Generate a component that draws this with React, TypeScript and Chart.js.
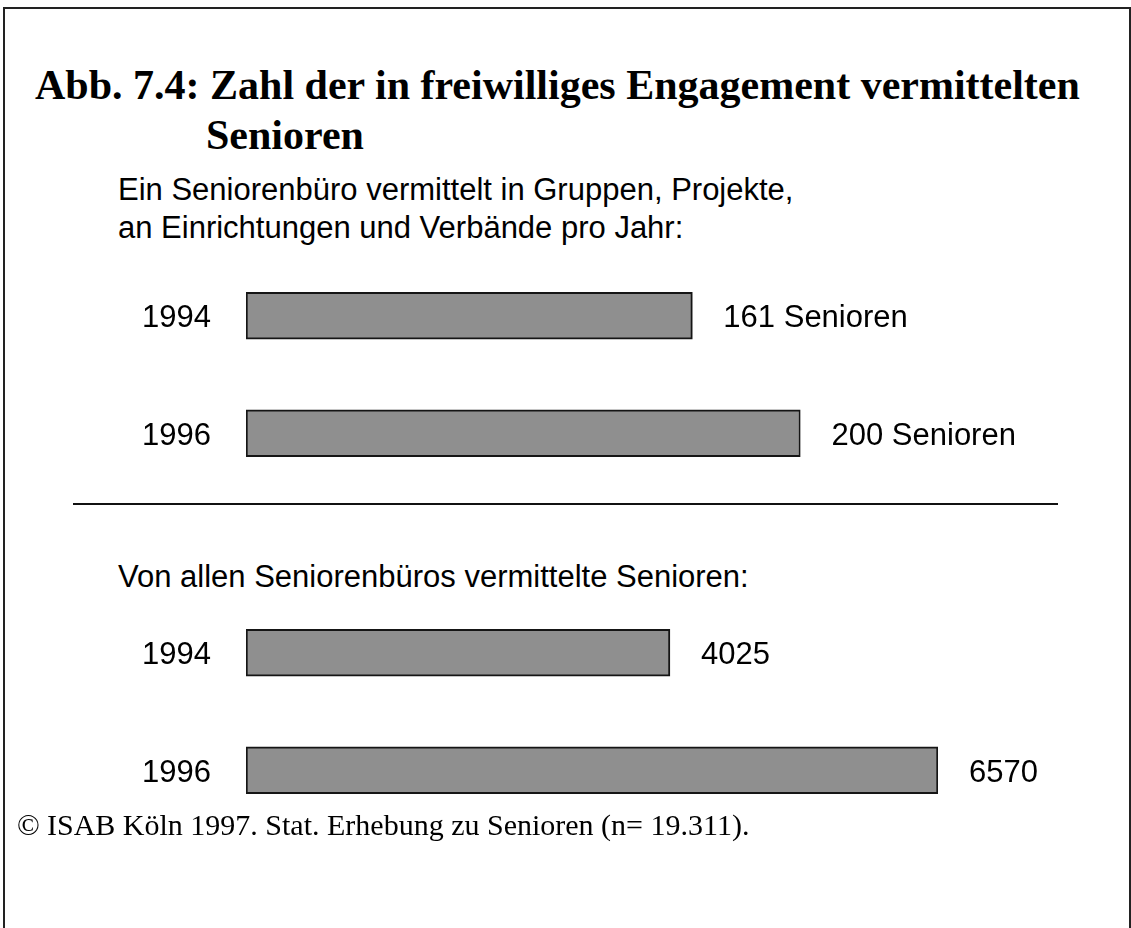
import React, { useEffect, useRef } from "react";
import { Chart, registerables } from "chart.js";

Chart.register(...registerables);

// ---- data ----
const years = ["1994", "1996"];
const perBureauValues = [161, 200];
const allBureausValues = [4025, 6570];
const perBureauSuffix = " Senioren";
const allBureausSuffix = "";

const titleLine1 = "Abb. 7.4: Zahl der in freiwilliges Engagement vermittelten";
const titleLine2 = "Senioren";
const subtitleLines = [
  "Ein Seniorenbüro vermittelt in Gruppen, Projekte,",
  "an Einrichtungen und Verbände pro Jahr:",
];
const section2Heading = "Von allen Seniorenbüros vermittelte Senioren:";
const footerMark = "©";
const footerText = "ISAB Köln 1997. Stat. Erhebung zu Senioren (n= 19.311).";

const SANS = "'Liberation Sans', Arial, Helvetica, sans-serif";
const SERIF = "'Liberation Serif', 'Times New Roman', serif";
const W = 1131;

const valueLabels = {
  id: "valueLabels",
  afterDatasetsDraw(chart: any, _args: any, opts: any) {
    const ctx = chart.ctx;
    const meta = chart.getDatasetMeta(0);
    const data = chart.data.datasets[0].data;
    ctx.save();
    ctx.font = opts.font;
    ctx.fillStyle = "#000";
    ctx.textBaseline = "middle";
    ctx.textAlign = "left";
    meta.data.forEach((bar: any, i: number) => {
      ctx.fillText(String(data[i]) + opts.suffix, bar.x + opts.gap, bar.y + opts.dy);
    });
    ctx.restore();
  },
};

function BarBlock(props: {
  labels: string[];
  values: number[];
  suffix: string;
  areaTop: number;
  areaHeight: number;
  areaLeft: number;
  areaRight: number;
}) {
  const ref = useRef<HTMLCanvasElement | null>(null);
  const pad = 60;
  const h = Math.round(props.areaHeight + pad * 2);
  useEffect(() => {
    if (!ref.current) return;
    const chart = new Chart(ref.current, {
      type: "bar",
      data: {
        labels: props.labels,
        datasets: [
          {
            data: props.values,
            backgroundColor: "#8f8f8f",
            borderColor: "#151515",
            borderWidth: 2,
            borderSkipped: false,
            barThickness: 47,
          },
        ],
      },
      plugins: [valueLabels as any],
      options: {
        indexAxis: "y",
        responsive: false,
        animation: false,
        devicePixelRatio: 1,
        layout: {
          padding: { left: 0, top: pad, bottom: pad, right: W - props.areaRight },
        },
        scales: {
          x: {
            type: "linear",
            min: 0,
            max: Math.max(...props.values),
            display: false,
            grid: { display: false },
          },
          y: {
            type: "category",
            grid: { display: false, drawTicks: false },
            border: { display: false },
            ticks: {
              color: "#000",
              font: { family: SANS, size: 31 },
              padding: 35,
              labelOffset: 3,
            },
            afterFit: (scale: any) => {
              scale.width = props.areaLeft;
            },
          },
        },
        plugins: {
          legend: { display: false },
          tooltip: { enabled: false },
          title: { display: false },
          valueLabels: {
            font: `31px ${SANS}`,
            suffix: props.suffix,
            gap: 31,
            dy: 3,
          },
        } as any,
      },
    } as any);
    return () => chart.destroy();
  }, []);
  return (
    <canvas
      ref={ref}
      width={W}
      height={h}
      style={{ position: "absolute", left: 0, top: Math.round(props.areaTop - pad), width: W, height: h }}
    />
  );
}

const textBase: React.CSSProperties = {
  position: "absolute",
  whiteSpace: "nowrap",
  color: "#000",
  margin: 0,
};

export default function App() {
  return (
    <div
      style={{
        position: "absolute",
        left: 0,
        top: 0,
        width: W,
        height: 928,
        overflow: "hidden",
        background: "#fff",
      }}
    >
      <div
        style={{
          position: "absolute",
          left: 3,
          top: 7,
          width: W - 3,
          height: 1000,
          boxSizing: "border-box",
          borderLeft: "2px solid #222",
          borderTop: "2px solid #222",
          borderRight: "2px solid #222",
        }}
      />
      <div
        style={{
          ...textBase,
          left: 35,
          top: 60,
          font: `bold 42px/50px ${SERIF}`,
        }}
      >
        {titleLine1}
      </div>
      <div
        style={{
          ...textBase,
          left: 206,
          top: 110,
          font: `bold 42px/50px ${SERIF}`,
        }}
      >
        {titleLine2}
      </div>
      {subtitleLines.map((t, i) => (
        <div
          key={i}
          style={{
            ...textBase,
            left: 118,
            top: 171 + i * 38,
            font: `31px/38px ${SANS}`,
          }}
        >
          {t}
        </div>
      ))}
      <BarBlock
        labels={years}
        values={perBureauValues}
        suffix={perBureauSuffix}
        areaTop={256.6}
        areaHeight={235.2}
        areaLeft={246}
        areaRight={800.5}
      />
      <div
        style={{
          position: "absolute",
          left: 73,
          top: 503,
          width: 985,
          height: 2,
          background: "#111",
        }}
      />
      <div
        style={{
          ...textBase,
          left: 118,
          top: 558,
          font: `31px/38px ${SANS}`,
        }}
      >
        {section2Heading}
      </div>
      <BarBlock
        labels={years}
        values={allBureausValues}
        suffix={allBureausSuffix}
        areaTop={594.25}
        areaHeight={235}
        areaLeft={246}
        areaRight={938}
      />
      <div
        style={{
          ...textBase,
          left: 17,
          top: 808,
          font: `30px/34px ${SERIF}`,
        }}
      >
        {footerMark}
      </div>
      <div
        style={{
          ...textBase,
          left: 47,
          top: 808,
          font: `30px/34px ${SERIF}`,
        }}
      >
        {footerText}
      </div>
    </div>
  );
}
